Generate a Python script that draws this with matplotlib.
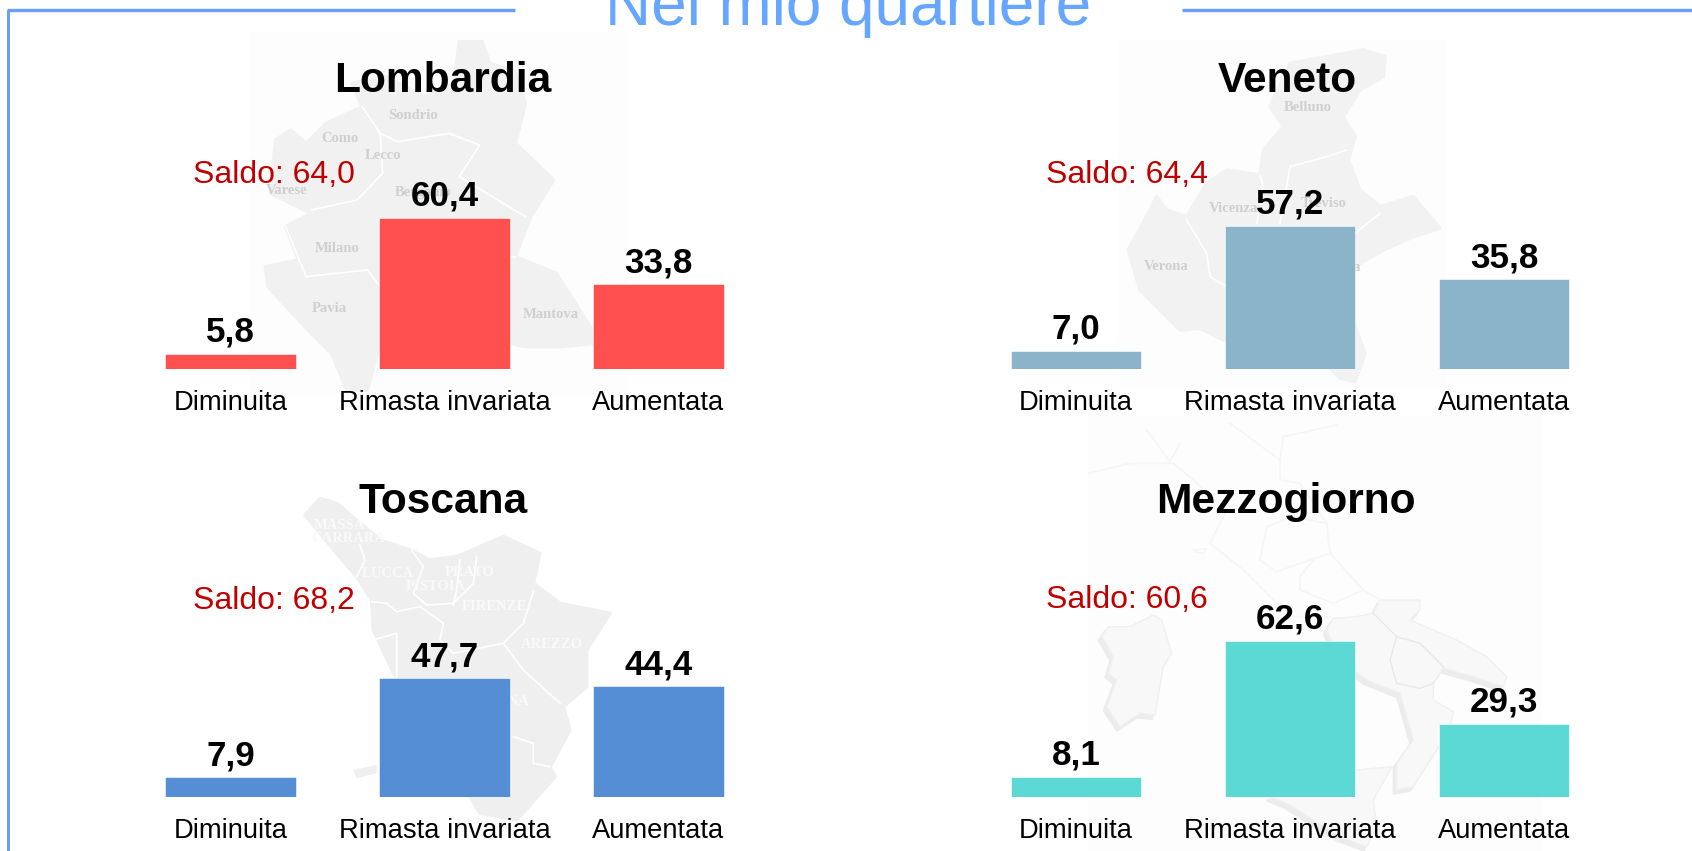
import matplotlib
matplotlib.use('Agg')
import matplotlib.pyplot as plt
from matplotlib.patches import Polygon, Rectangle

plt.rcParams['font.family'] = ['Liberation Sans', 'DejaVu Sans']

W, H = 1692, 851

categories = ['Diminuita', 'Rimasta invariata', 'Aumentata']
regions = ['Lombardia', 'Veneto', 'Toscana', 'Mezzogiorno']
lombardia = [5.8, 60.4, 33.8]
veneto = [7.0, 57.2, 35.8]
toscana = [7.9, 47.7, 44.4]
mezzogiorno = [8.1, 62.6, 29.3]
values = [lombardia, veneto, toscana, mezzogiorno]
saldo = ['64,0', '64,4', '68,2', '60,6']
colors = ['#FF5050', '#8BB4CB', '#558ED5', '#5DD9D5']

# sketches of the grey maps behind the bars, in zoomed-crop pixels
lomb_map = [(900,125),(945,125),(960,190),(1010,215),(1030,310),(1010,430),(1085,540),(1040,650),
            (1010,770),(1090,820),(1165,1000),(1165,1030),(1100,1040),(1030,1040),(1000,1030),(750,1000),
            (720,1170),(680,1170),(650,1060),(610,1000),(525,860),(520,800),(585,780),(560,680),
            (610,640),(530,580),(540,420),(570,390),(600,430),(640,370),(710,320),(690,250),
            (760,230),(830,290),(890,250)]
lomb_lines = [[(710,320),(745,400),(750,520),(700,600),(610,630)],
              [(745,400),(780,425),(880,400),(940,435),(900,530),(1030,650)],
              [(560,680),(600,830),(720,810),(745,860)],[(1000,770),(1010,770)]]
lomb_labels = [('Sondrio',810,347),('Como',667,416),('Lecco',750,467),('Varese',562,572),('Bergamo',830,577),
               ('Milano',660,745),('Pavia',645,927),('Mantova',1080,942)]

ven_map = [(940,90),(1005,110),(1000,170),(930,210),(880,290),(915,350),(895,420),(930,510),(990,560),
           (1090,530),(1170,625),(1090,650),(1000,690),(930,730),(880,770),(915,920),(945,1000),(915,1085),
           (870,1075),(800,1000),(600,1000),(450,925),(390,930),(270,810),(235,690),(300,570),(320,530),
           (350,570),(410,590),(470,490),(530,450),(630,465),(640,390),(700,320),(660,260),(720,130)]
ven_lines = [[(410,600),(470,700),(480,770),(530,800)],[(630,465),(640,500),(620,610)],
             [(720,440),(830,410),(890,390)],[(720,440),(710,500),(690,610)],[(915,640),(990,580)]]
ven_labels = [('Belluno',773,262),('Vicenza',550,565),('Treviso',820,550),('Verona',350,738),('Venezia',860,742)]

tos_map = [(240,55),(290,70),(420,180),(510,210),(570,240),(650,230),(790,170),(900,220),(880,310),(960,370),
           (1110,400),(1040,510),(1040,620),(970,680),(990,750),(930,860),(945,890),(830,1020),(720,1000),
           (690,950),(470,600),(400,450),(395,360),(350,290),(290,220),(195,105)]
tos_island = [(340,870),(410,855),(410,880),(350,895)]
tos_lines = [[(360,195),(375,240),(350,290)],[(395,365),(440,370),(470,395),(540,380),(610,430),(600,480),(640,520),(790,490)],
             [(515,210),(550,260),(520,340),(560,375),(640,370),(700,310),(710,230)],[(660,240),(650,330),(640,375)],
             [(880,335),(850,430),(790,490),(850,570),(960,670)],[(400,480),(470,460),(470,590)],[(820,770),(880,790),(880,850),(930,860)]]
tos_labels = [('MASSA-',305,137),('CARRARA',325,175),('LUCCA',445,280),('PRATO',688,277),('PISTOIA',588,318),
              ('FIRENZE',762,380),('AREZZO',935,495),('SIENA',800,665)]

boot = [(740,690),(760,655),(830,650),(880,640),(900,600),(1020,600),(1020,630),(990,660),(1130,720),(1220,770),
        (1280,830),(1270,860),(1180,830),(1090,805),(1060,850),(1060,900),(1120,935),(1110,990),(1050,1080),
        (1000,1160),(950,1170),(950,1090),(1000,1020),(960,880),(860,840),(780,780)]
sardinia = [(85,680),(150,680),(220,645),(245,660),(275,760),(250,800),(225,945),(180,940),(120,980),(80,920),
            (110,840),(85,820),(100,770),(65,710)]
sicily = [(830,1110),(935,1100),(880,1200),(890,1280),(860,1340),(780,1310),(620,1210),(570,1190),(600,1180)]
north_lines = [[(25,220),(150,190),(280,190),(340,240),(440,330),(390,430),(490,510),(590,610),(640,650),(750,650)],
               [(300,130),(270,185)],[(450,70),(600,180),(610,110),(770,75)],[(200,90),(270,185)],
               [(560,380),(540,480),(590,515),(750,460),(740,370),(640,350),(560,380)],
               [(660,530),(700,480)],[(660,530),(660,570),(760,610),(850,570)],[(750,460),(850,570),(900,600)],
               [(600,180),(600,240),(660,250),(740,370)],[(340,450),(380,445),(370,460),(345,455)]]
south_lines = [[(880,640),(950,710),(930,780),(950,850)],[(950,710),(1020,730),(1090,800)],[(950,850),(1020,865),(1060,850)]]


def to_lomb(p):
    return [(x / 1.96, y / 3) for x, y in p]

def to_ven(p):
    return [(1050 + x / 3, 20 + y / 3) for x, y in p]

def to_tos(p):
    return [(240 + x / 3, 480 + y / 3) for x, y in p]

def to_mez(p):
    return [(1080 + x / 3, 400 + y / 3) for x, y in p]


def draw_map(ax, shape, lines, labels, conv, fill, label_color):
    ax.add_patch(Polygon(conv(shape), closed=True, fc=fill, ec=fill, lw=2.5, joinstyle='round', zorder=2))
    for l in lines:
        pts = conv(l)
        ax.plot([a for a, b in pts], [b for a, b in pts], color='white', lw=1.2, zorder=3)
    for name, x, y in labels:
        (px, py), = conv([(x, y)])
        ax.text(px, py, name, ha='center', va='center', fontsize=10.5, fontweight='bold',
                family='Liberation Serif', color=label_color, zorder=4)


fig = plt.figure(figsize=(W / 100, H / 100), dpi=100, facecolor='white')

bg = fig.add_axes([0, 0, 1, 1], zorder=0)
bg.set_xlim(0, W)
bg.set_ylim(H, 0)
bg.axis('off')

for x0, y0, x1, y1 in [(250, 32, 629, 395), (1118, 40, 1447, 387), (1088, 415, 1542, 851)]:
    bg.add_patch(Rectangle((x0, y0), x1 - x0, y1 - y0, fc='#FDFDFD', ec='none', zorder=1))

draw_map(bg, lomb_map, lomb_lines, lomb_labels, to_lomb, '#F1F1F1', '#CFCFCF')
draw_map(bg, ven_map, ven_lines, ven_labels, to_ven, '#F2F2F2', '#CFCFCF')
draw_map(bg, tos_map, tos_lines, tos_labels, to_tos, '#EFEFEF', '#FAFAFA')
bg.add_patch(Polygon(to_tos(tos_island), closed=True, fc='#EFEFEF', ec='none', zorder=2))

for shape in [boot, sardinia, sicily]:
    pts = to_mez(shape)
    bg.add_patch(Polygon([(a - 3, b + 4) for a, b in pts], closed=True, fc='#ECECEC', ec='#ECECEC', lw=1.5,
                         joinstyle='round', zorder=2))
    bg.add_patch(Polygon(pts, closed=True, fc='#F8F8F8', ec='#F0F0F0', lw=1, joinstyle='round', zorder=2))
for l in north_lines:
    pts = to_mez(l)
    bg.plot([a for a, b in pts], [b for a, b in pts], color='#F5F5F5', lw=1.2, zorder=3)
for l in south_lines:
    pts = to_mez(l)
    bg.plot([a for a, b in pts], [b for a, b in pts], color='#E8E8E8', lw=1, zorder=3)

# frame and heading
frame = '#6A9DFF'
bg.plot([8, 8], [851, 10], color=frame, lw=2.2, solid_capstyle='butt', zorder=5)
bg.plot([7, 515], [10, 10], color=frame, lw=2.4, solid_capstyle='butt', zorder=5)
bg.plot([1182, 1692], [10, 10], color=frame, lw=2.4, solid_capstyle='butt', zorder=5)
bg.text(848, 25, 'Nel mio quartiere', ha='center', va='baseline', fontsize=46, color='#66A6FF', zorder=5)

# one small axes per region, all with the same scale
lefts = [123.5, 969, 123.5, 969]
bottoms = [368.5, 368.5, 797, 797]
title_x = [443, 1287, 443, 1286]
title_y = [92, 92, 513, 513]
saldo_x = [355, 1208, 355, 1208]
saldo_y = [183, 183, 609, 608]
ymax = 70
scale = 2.49
ax_w = 642

for i, region in enumerate(regions):
    ax = fig.add_axes([lefts[i] / W, 1 - bottoms[i] / H, ax_w / W, ymax * scale / H], zorder=1)
    ax.patch.set_alpha(0)
    ax.bar(categories, values[i], width=0.61, color=colors[i], edgecolor='#FFFFFF', linewidth=0.4)
    ax.set_xlim(-0.5, 2.5)
    ax.set_ylim(0, ymax)
    ax.set_yticks([])
    ax.tick_params(axis='x', length=0, labelsize=19.7, pad=15.2)
    for s in ax.spines.values():
        s.set_visible(False)
    for j, v in enumerate(values[i]):
        ax.annotate(f'{v:.1f}'.replace('.', ','), (j, v), xytext=(0, 8.8), textcoords='offset points',
                    ha='center', va='baseline', fontsize=25.2, fontweight='bold', color='black')
    fig.text(title_x[i] / W, 1 - title_y[i] / H, region, ha='center', va='baseline',
             fontsize=30.6, fontweight='bold', color='black', zorder=6)
    fig.text(saldo_x[i] / W, 1 - saldo_y[i] / H, 'Saldo: ' + saldo[i], ha='right', va='baseline',
             fontsize=23, color='#C00000', zorder=6)

plt.savefig('out.png', dpi=100)
